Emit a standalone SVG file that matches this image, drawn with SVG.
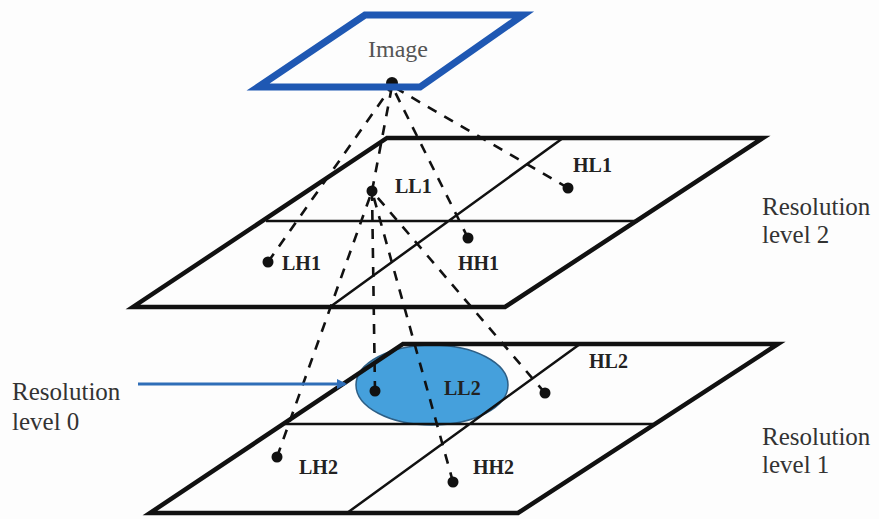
<svg xmlns="http://www.w3.org/2000/svg" width="879" height="519" viewBox="0 0 879 519">
<style>
.plane{fill:none;stroke:#111;stroke-width:4.5;stroke-linejoin:miter}
.inner{fill:none;stroke:#111;stroke-width:2.5}
.dash{fill:none;stroke:#111;stroke-width:2.6;stroke-dasharray:10 9}
.dot{fill:#111}
.lbl{font-family:"Liberation Serif","Times New Roman",serif;font-weight:bold;font-size:20px;fill:#222}
.res{font-family:"Liberation Serif","Times New Roman",serif;font-size:25px;fill:#333}
</style>
<defs>
<marker id="ah" markerWidth="10" markerHeight="10" refX="8" refY="5" orient="auto" markerUnits="userSpaceOnUse">
<path d="M0,0 L10,5 L0,10 Z" fill="#2f6eb8"/>
</marker>
</defs>
<rect width="879" height="519" fill="#fdfdfd"/>

<g id="level1-plane">
<ellipse id="ll2-region" cx="432" cy="385" rx="76" ry="40" fill="#45a0dc" stroke="#2d5f86" stroke-width="1.5"/>
<path class="plane" d="M403,344 L778,344 L518,513 L150,513 Z"/>
<path class="inner" d="M285,424 L653,424 M580,344 L347,513"/>
</g>

<g id="level2-plane">
<path class="plane" d="M387,138 L763,138 L505,307 L133,307 Z"/>
<path class="inner" d="M266,221 L638,221 M563,138 L330,307"/>
</g>

<g id="connectors">
<path class="dash" d="M372,191 L392,86"/>
<path class="dash" d="M568,188 L392,86"/>
<path class="dash" d="M268,262 L392,86"/>
<path class="dash" d="M468,238 L392,86"/>
<path class="dash" d="M375,391 L372,191"/>
<path class="dash" d="M545,393 L372,191"/>
<path class="dash" d="M277,457 L372,191"/>
<path class="dash" d="M453,482 L372,191"/>
<line x1="138" y1="384" x2="345" y2="384" stroke="#2f6eb8" stroke-width="3" marker-end="url(#ah)"/>
</g>

<g id="image">
<circle class="dot" cx="392" cy="83" r="6"/>
<path d="M365,15 L523,15 L420,87 L258,87 Z" fill="none" stroke="#1f58b3" stroke-width="7" stroke-linejoin="miter"/>
<text x="368" y="57" font-family="Liberation Serif, Times New Roman, serif" font-size="24" fill="#555">Image</text>
</g>

<g id="LL1"><circle class="dot" cx="372" cy="191" r="5.5"/><text class="lbl" x="395" y="193">LL1</text></g>
<g id="HL1"><circle class="dot" cx="568" cy="188" r="5.5"/><text class="lbl" x="573" y="172">HL1</text></g>
<g id="LH1"><circle class="dot" cx="268" cy="262" r="5.5"/><text class="lbl" x="282" y="270">LH1</text></g>
<g id="HH1"><circle class="dot" cx="468" cy="238" r="5.5"/><text class="lbl" x="458" y="270">HH1</text></g>
<g id="LL2"><circle class="dot" cx="375" cy="391" r="5.5"/><text class="lbl" x="444" y="395">LL2</text></g>
<g id="HL2"><circle class="dot" cx="545" cy="393" r="5.5"/><text class="lbl" x="589" y="368">HL2</text></g>
<g id="LH2"><circle class="dot" cx="277" cy="457" r="5.5"/><text class="lbl" x="299" y="474">LH2</text></g>
<g id="HH2"><circle class="dot" cx="453" cy="482" r="5.5"/><text class="lbl" x="473" y="474">HH2</text></g>

<g id="label-level2"><text class="res" x="762" y="215">Resolution</text><text class="res" x="762" y="243">level 2</text></g>
<g id="label-level1"><text class="res" x="762" y="445">Resolution</text><text class="res" x="762" y="473">level 1</text></g>
<g id="label-level0"><text class="res" x="12" y="400">Resolution</text><text class="res" x="12" y="430">level 0</text></g>
</svg>
